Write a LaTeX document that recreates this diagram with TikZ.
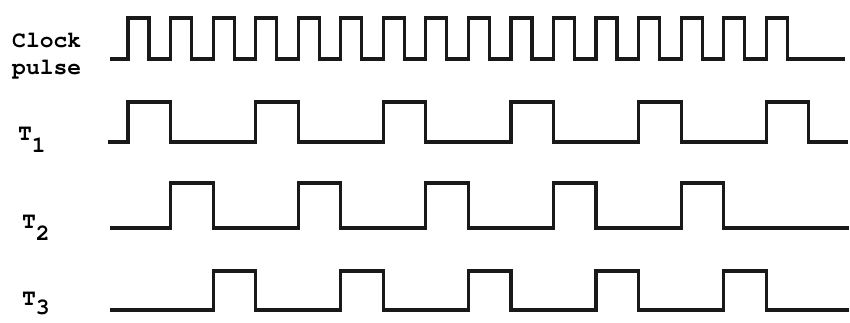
\documentclass[tikz,border=0pt]{standalone}
\usepackage{fontspec}
\newfontfamily\courf{texgyrecursor-bold.otf}
\begin{document}
\begin{tikzpicture}[x=1pt,y=-1pt,
  wave/.style={line width=3.2pt,line join=miter,line cap=butt,black!90},
  lbl/.style={anchor=base west,inner sep=0pt,font=\fontsize{23}{25}\selectfont\courf},
  tlbl/.style={anchor=base west,inner sep=0pt,font=\fontsize{23}{25}\selectfont\courf}]
\useasboundingbox (0,0) rectangle (850,322);
\def\per{42.55}
% labels
\node[lbl] (clk) at (12,47) {Clock};
\node[lbl] (pls) at (12,74) {pulse};
\node[tlbl] (t1) at (18,140) {T\raisebox{-12pt}{1}};
\node[tlbl] (t2) at (22,228) {T\raisebox{-12pt}{2}};
\node[tlbl] (t3) at (22,305) {T\raisebox{-9pt}{3}};
% clock
\draw[wave] (110,59) \foreach \k in {0,...,15}{
  -- ({128+\per*\k},59) -- ({128+\per*\k},18) -- ({149+\per*\k},18) -- ({149+\per*\k},59)} -- (845,59);
% T1
\draw[wave] (108,142) \foreach \k in {0,3,...,15}{
  -- ({128+\per*\k},142) -- ({128+\per*\k},102) -- ({128+\per*(\k+1)},102) -- ({128+\per*(\k+1)},142)} -- (848,142);
% T2
\draw[wave] (110,228) \foreach \k in {1,4,...,13}{
  -- ({128+\per*\k},228) -- ({128+\per*\k},183) -- ({128+\per*(\k+1)},183) -- ({128+\per*(\k+1)},228)} -- (849,228);
% T3
\draw[wave] (110,310) \foreach \k in {2,5,...,14}{
  -- ({128+\per*\k},310) -- ({128+\per*\k},271) -- ({128+\per*(\k+1)},271) -- ({128+\per*(\k+1)},310)} -- (849,310);
\end{tikzpicture}
\end{document}
